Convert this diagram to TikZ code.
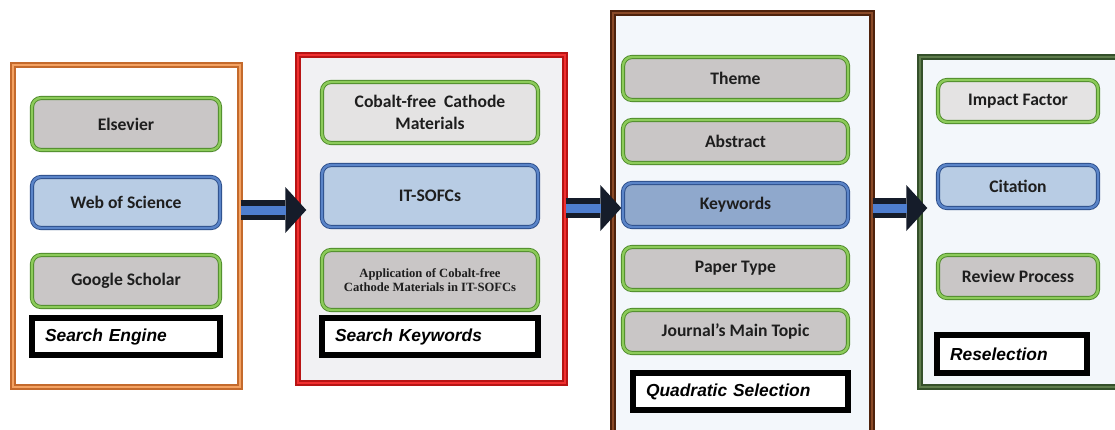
\documentclass[tikz,border=0pt]{standalone}
\usepackage{fontspec}
\usetikzlibrary{shadows,arrows.meta,calc}
\newfontfamily\carl{Carlito}
\newfontfamily\arialf{Liberation Sans}
\newfontfamily\timesf{Liberation Serif}
\definecolor{orgdk}{HTML}{C46A2C}
\definecolor{orglt}{HTML}{F4A262}
\definecolor{reddk}{HTML}{B81414}
\definecolor{redlt}{HTML}{F03030}
\definecolor{brndk}{HTML}{4E220C}
\definecolor{brnlt}{HTML}{8A4A28}
\definecolor{grndk}{HTML}{34502A}
\definecolor{grnlt}{HTML}{5E7C4C}
\definecolor{gdk}{HTML}{4E8A2A}
\definecolor{glt}{HTML}{8CCB5A}
\definecolor{gfill}{HTML}{C9C6C6}
\definecolor{gfilllt}{HTML}{E4E3E3}
\definecolor{bdk}{HTML}{2C4E8A}
\definecolor{blt}{HTML}{5A84C8}
\definecolor{bfill}{HTML}{B8CCE4}
\definecolor{bfilldk}{HTML}{8FA8CC}
\definecolor{txt}{HTML}{1E1E1E}
\definecolor{navy}{HTML}{151C2A}
\definecolor{ablue}{HTML}{4E7ED0}
\definecolor{p2fill}{HTML}{F1F1F3}
\definecolor{p3fill}{HTML}{F3F7FB}
\newcommand\placebox[7]{\node[#1,minimum width={(#4)-(#3)},minimum height={(#6)-(#5)}] (#2) at ({((#3)+(#4))/2},{((#5)+(#6))/2}) {#7};}
\newcommand\placelbl[7]{\node[lbl,text width=#7,minimum height={(#5)-(#4)}] (#1) at ({((#2)+(#3))/2},{((#4)+(#5))/2}) {#6};}
\begin{document}
\begin{tikzpicture}[x=1pt,y=-1pt,
  panel/.style={rectangle, line width=1.4pt, double distance=2.8pt, inner sep=0pt,
    drop shadow={opacity=0.22,shadow xshift=2pt,shadow yshift=-3pt}},
  gbox/.style={rectangle, rounded corners=9pt, draw=gdk, double=glt, double distance=2.4pt,
    line width=0.9pt, fill=gfill, text=txt, align=center, inner sep=0pt,
    drop shadow={opacity=0.18,shadow xshift=1.5pt,shadow yshift=-2pt},
    font=\carl\bfseries\fontsize{17.6}{20.5}\selectfont},
  bbox/.style={gbox, draw=bdk, double=blt, fill=bfill},
  lbl/.style={rectangle, draw=black, line width=5.5pt, fill=white, text=black, align=left,
    inner xsep=13pt, inner ysep=0pt, font=\arialf\bfseries\itshape\fontsize{17.4}{20}\selectfont},
  arrowout/.style={line width=20pt, draw=navy, -{Triangle[length=21pt,width=46pt,line width=0pt]}},
  arrowin/.style={line width=9pt, draw=ablue}
]
\useasboundingbox (0,0) rectangle (1115,429);
\clip (0,0) rectangle (1115,429);
\fill[white] (0,0) rectangle (1115,429);

% panels
\node[panel, draw=orgdk, double=orglt, fill=white, minimum width=227, minimum height=322] (p1) at (126.5,226) {};
\node[panel, draw=reddk, double=redlt, fill=p2fill, minimum width=267, minimum height=328] (p2) at (431.5,219) {};
\node[panel, draw=brndk, double=brnlt, fill=p3fill, minimum width=259, minimum height=427] (p3) at (742.5,226.5) {};
\node[panel, draw=grndk, double=grnlt, fill=p3fill, minimum width=210, minimum height=330] (p4) at (1025,222) {};

% arrows between panels
\coordinate (ya) at (0,210);
\coordinate (yb) at (0,208);
\draw[arrowout] (p1.east |- ya) -- ($(p2.west |- ya)+(9,0)$);
\draw[arrowin] (p1.east |- ya) -- ($(p2.west |- ya)+(-11,0)$);
\draw[arrowout] (p2.east |- yb) -- ($(p3.west |- yb)+(9,0)$);
\draw[arrowin] (p2.east |- yb) -- ($(p3.west |- yb)+(-11,0)$);
\draw[arrowout] (p3.east |- yb) -- ($(p4.west |- yb)+(8,0)$);
\draw[arrowin] (p3.east |- yb) -- ($(p4.west |- yb)+(-12,0)$);

% panel 1
\placebox{gbox}{els}{32}{220}{98}{150}{Elsevier}
\placebox{bbox}{wos}{32}{220}{177}{228}{Web of Science}
\placebox{gbox}{gs}{32}{220}{255}{307}{Google Scholar}
\placelbl{l1}{32}{220}{318}{355}{Search Engine}{162pt}

% panel 2
\placebox{gbox,fill=gfilllt}{cfc}{322}{538}{82}{143}{Cobalt-free\ \ Cathode\\[1pt]Materials}
\placebox{bbox}{its}{322}{538}{165}{227}{IT-SOFCs}
\placebox{gbox,font=\timesf\bfseries\fontsize{12.6}{14}\selectfont}{app}{322}{538}{250}{310}{Application of Cobalt-free\\Cathode Materials in IT-SOFCs}
\placelbl{l2}{322}{538}{318}{355}{Search Keywords}{190pt}

% panel 3
\placebox{gbox}{thm}{623}{848}{57}{100}{Theme}
\placebox{gbox}{abs}{623}{848}{120}{163}{Abstract}
\placebox{bbox,fill=bfilldk}{kw}{623}{848}{183}{227}{Keywords}
\placebox{gbox}{pt}{623}{848}{247}{290}{Paper Type}
\placebox{gbox}{jmt}{623}{848}{310}{353}{Journal’s Main Topic}
\placelbl{l3}{633}{848}{373}{410}{Quadratic Selection}{189pt}

% panel 4
\placebox{gbox,fill=gfilllt}{imf}{938}{1098}{80}{122}{Impact Factor}
\placebox{bbox}{cit}{938}{1098}{165}{208}{Citation}
\placebox{gbox}{rev}{938}{1098}{255}{298}{Review Process}
\placelbl{l4}{937}{1087}{335}{373}{Reselection}{124pt}
\end{tikzpicture}
\end{document}
